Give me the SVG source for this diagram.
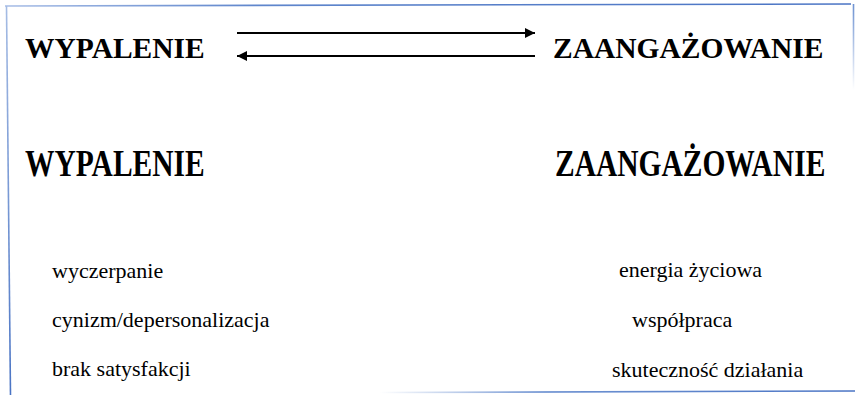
<svg xmlns="http://www.w3.org/2000/svg" width="855" height="395" viewBox="0 0 855 395">
  <style>
    .head { font-weight: bold; font-size: 29.5px; fill: #000; }
    .item { font-size: 22px; fill: #000; }
    .link { stroke: #000; stroke-width: 2; fill: none; }
  </style>
  <defs>
    <marker id="head" viewBox="0 0 10 10" refX="10" refY="5" markerWidth="10" markerHeight="10" markerUnits="userSpaceOnUse" orient="auto">
      <path d="M0,0 L10,5 L0,10 Z" fill="#000"/>
    </marker>
    <linearGradient id="topEdge" x1="0" y1="0" x2="1" y2="0">
      <stop offset="0" stop-color="#a7bde6"/>
      <stop offset="0.3" stop-color="#5f86cc"/>
      <stop offset="1" stop-color="#4a74c4"/>
    </linearGradient>
    <linearGradient id="leftEdge" x1="0" y1="0" x2="0" y2="1">
      <stop offset="0" stop-color="#a5bce4"/>
      <stop offset="1" stop-color="#4a74c4"/>
    </linearGradient>
    <linearGradient id="bottomEdge" gradientUnits="userSpaceOnUse" x1="380" y1="0" x2="855" y2="0">
      <stop offset="0" stop-color="#ffffff"/>
      <stop offset="0.35" stop-color="#6f93d2"/>
      <stop offset="1" stop-color="#4a74c4"/>
    </linearGradient>
    <linearGradient id="rightEdge" gradientUnits="userSpaceOnUse" x1="0" y1="5" x2="0" y2="90">
      <stop offset="0" stop-color="#6f93d2"/>
      <stop offset="1" stop-color="#ffffff"/>
    </linearGradient>
  </defs>

  <rect width="855" height="395" fill="#fff"/>

  <!-- frame edges -->
  <g id="frame" fill="none" stroke-width="1.6">
    <line x1="5" y1="6" x2="851" y2="4" stroke="url(#topEdge)"/>
    <line x1="6.5" y1="6" x2="10.5" y2="395" stroke="url(#leftEdge)"/>
    <line x1="853.5" y1="4" x2="853.5" y2="90" stroke="url(#rightEdge)"/>
    <line x1="380" y1="392.5" x2="855" y2="391" stroke="url(#bottomEdge)"/>
  </g>

  <!-- connectors -->
  <g id="connectors">
    <line class="link" x1="237" y1="33" x2="535" y2="33" marker-end="url(#head)"/>
    <line class="link" x1="535" y1="56" x2="237" y2="56" marker-end="url(#head)"/>
  </g>

  <g font-family="Liberation Serif, Times New Roman, serif">
    <g id="burnout-top"><text class="head" x="25" y="58">WYPALENIE</text></g>
    <g id="engagement-top"><text class="head" x="553" y="58">ZAANGAŻOWANIE</text></g>

    <!-- second row headings are stretched vertically -->
    <g id="burnout" transform="translate(0,176) scale(1,1.25)"><text class="head" x="25" y="0">WYPALENIE</text></g>
    <g id="engagement" transform="translate(0,176) scale(1,1.25)"><text class="head" x="555" y="0">ZAANGAŻOWANIE</text></g>

    <g id="burnout-items">
      <text class="item" x="52" y="278">wyczerpanie</text>
      <text class="item" x="52" y="327">cynizm/depersonalizacja</text>
      <text class="item" x="52" y="376">brak satysfakcji</text>
    </g>

    <g id="engagement-items">
      <text class="item" x="619" y="277">energia życiowa</text>
      <text class="item" x="632" y="327">współpraca</text>
      <text class="item" x="612" y="377">skuteczność działania</text>
    </g>
  </g>
</svg>
